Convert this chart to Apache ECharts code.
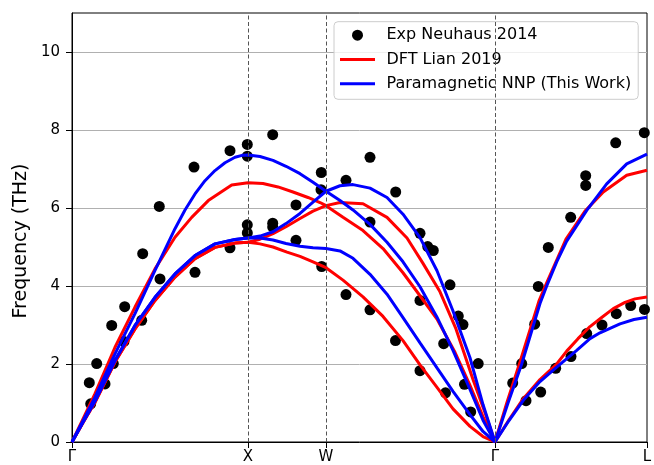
<!DOCTYPE html>
<html>
<head>
<meta charset="utf-8">
<script src="https://cdn.jsdelivr.net/npm/echarts@6/dist/echarts.min.js"></script>
<style>
  html, body { margin: 0; padding: 0; background: #ffffff; }
  #chart { width: 654px; height: 465px; }
</style>
</head>
<body>
<div id="chart"></div>
<script>
// High-symmetry path positions (distance along path) and labels
const kTicks = [0, 176, 254, 423, 575];
const kLabels = ['Γ', 'X', 'W', 'Γ', 'L'];
const yTicks = [0, 2, 4, 6, 8, 10];

// Experimental points (Neuhaus 2014): [k, frequency THz]
const expPoints = [
  [18.7,0.98],[17.3,1.52],[24.7,2.01],[33,1.49],[41.3,2.01],[39.7,2.99],[52,2.58],[52.7,3.47],
  [69.7,3.12],[70.7,4.83],[88,4.18],[87.3,6.04],[122,7.05],[123,4.35],[158,7.47],[158,4.98],
  [175.3,7.63],[175.3,7.33],[175.3,5.57],[175.3,5.36],
  [200.7,7.88],[200.7,5.61],[200.7,5.51],[224,6.08],[224,5.17],[249.3,6.91],[249,6.47],[249.7,4.50],
  [274,6.71],[274,3.78],[298,7.30],[298,5.64],[298,3.39],[323.7,6.41],[323.5,2.60],[348,5.35],
  [348,3.63],[348,1.83],[355.7,5.01],[361.3,4.91],[371.7,2.52],[373.5,1.26],[378,4.03],[386.3,3.23],
  [391,3.01],[392.5,1.48],[398.7,0.77],[406.2,2.01],
  [440.7,1.51],[449.7,2.01],[454,1.06],[462.7,3.02],[466.3,3.99],[468.7,1.28],[476.3,4.99],[483.7,1.89],
  [498.7,5.76],[499,2.19],[513.7,6.83],[513.7,6.58],[514.7,2.78],[530,3.00],[543.7,7.67],[544.3,3.29],
  [558.7,3.50],[572.3,7.93],[572.5,3.40]
];

// DFT (Lian 2019) branches
const dftLA = [
  [0,0],[11.5,0.62],[23,1.24],[43,2.43],[63,3.46],[83,4.44],[103,5.25],[119.7,5.76],[136.3,6.19],[159.7,6.59],[176,6.65],
  [191,6.63],[206,6.54],[221,6.41],[236,6.27],[248,6.14],[254,6.06],
  [271,5.76],[291,5.42],[311,4.96],[331,4.34],[348,3.75],[365,3.15],[383,2.3],[398,1.45],[411,0.65],[423,0]
];
const dftTA1 = [
  [0,0],[11.5,0.52],[23,1.02],[43,2.05],[63,2.90],[83,3.63],[103,4.23],[123,4.70],[143,4.99],[163,5.10],[176,5.12],
  [188,5.2],[201,5.34],[214,5.52],[228,5.73],[241,5.92],[254,6.06],
  [268,6.14],[291,6.11],[315,5.76],[335,5.23],[351,4.58],[368,3.85],[384,2.9],[401,1.6],[414,0.68],[423,0]
];
const dftTA2 = [
  [0,0],[11.5,0.52],[23,1.02],[43,2.05],[63,2.90],[83,3.63],[103,4.23],[123,4.70],[143,4.99],[163,5.10],[176,5.12],
  [188,5.08],[201,5.0],[215,4.87],[228,4.76],[241,4.62],[254,4.47],
  [271,4.15],[291,3.72],[311,3.22],[331,2.6],[348,1.98],[365,1.4],[381,0.85],[398,0.4],[411,0.14],[423,0]
];
const dftGL_LA = [[423,0],[435,1.02],[448,2.05],[467,3.62],[475,4.1],[494,5.2],[513,5.92],[531.3,6.41],[554.7,6.84],[575,6.97]];
const dftGL_TA = [[423,0],[437,0.57],[451.3,1.11],[468,1.6],[484.7,2.0],[494.7,2.33],[506,2.65],[518,2.96],[530,3.2],[541.3,3.42],[553,3.58],[563,3.67],[575,3.72]];

// Paramagnetic NNP (this work) branches
const nnpLA = [
  [0,0],[11.5,0.57],[23,1.15],[43,2.26],[63,3.29],[83,4.40],[103,5.47],[113,5.95],[123,6.36],[133,6.70],[143,6.96],[153,7.16],[163,7.30],[170,7.35],[176,7.36],
  [188,7.32],[201,7.22],[214,7.07],[228,6.88],[241,6.66],[254,6.43],
  [268,6.19],[281,5.95],[298,5.58],[315,5.12],[331,4.62],[348,3.98],[365,3.2],[381,2.35],[398,1.35],[411,0.56],[423,0]
];
const nnpTA1 = [
  [0,0],[11.5,0.53],[23,1.05],[43,2.09],[63,2.99],[83,3.71],[103,4.31],[123,4.78],[143,5.08],[163,5.19],[176,5.23],
  [188,5.28],[201,5.39],[214,5.6],[228,5.86],[241,6.15],[254,6.43],
  [268,6.57],[281,6.60],[298,6.51],[315,6.27],[331,5.84],[348,5.24],[365,4.39],[381,3.36],[398,2.16],[411,0.96],[423,0]
];
const nnpTA2 = [
  [0,0],[11.5,0.53],[23,1.05],[43,2.09],[63,2.99],[83,3.71],[103,4.31],[123,4.78],[143,5.08],[163,5.19],[176,5.23],
  [188,5.23],[201,5.18],[214,5.09],[228,5.02],[241,4.98],[254,4.96],
  [268,4.90],[281,4.71],[298,4.30],[315,3.79],[331,3.19],[348,2.54],[365,1.90],[381,1.30],[398,0.70],[411,0.27],[423,0]
];
const nnpGL_LA = [[423,0],[436,1.0],[449.7,2.0],[468,3.55],[474.7,4.0],[484.7,4.62],[494.7,5.15],[514.7,5.94],[534.7,6.62],[554.7,7.13],[575,7.38]];
const nnpGL_TA = [[423,0],[437,0.55],[451.3,1.07],[468,1.55],[484.7,1.92],[504.7,2.35],[518,2.65],[528,2.8],[548,3.03],[562,3.14],[575,3.2]];

const EXP = 'Exp Neuhaus 2014';
const DFT = 'DFT Lian 2019';
const NNP = 'Paramagnetic NNP (This Work)';
const FONT = 'DejaVu Sans';
const LINE_ICON = 'path://M0,0 L35,0 L35,3 L0,3 Z';

function lineSeries(name, data, color, z) {
  return {
    name: name, type: 'line', data: data, symbol: 'none', showSymbol: false,
    lineStyle: { color: color, width: 3 }, itemStyle: { color: color },
    z: z, silent: true, animation: false, clip: true
  };
}

const chart = echarts.init(document.getElementById('chart'), null, { renderer: 'canvas' });
const option = {
  animation: false,
  grid: {
    left: 72, right: 7, top: 13, bottom: 23,
    show: true, borderColor: '#000', borderWidth: 1, backgroundColor: 'transparent',
    outerBoundsMode: 'none', containLabel: false
  },
  xAxis: {
    type: 'value', min: 0, max: 575,
    axisLine: { show: true, lineStyle: { color: '#000', width: 1 } },
    axisTick: { show: true, customValues: kTicks, length: 6, lineStyle: { color: '#000', width: 1 } },
    axisLabel: {
      show: true, customValues: kTicks, margin: 8, color: '#000', fontSize: 15, fontFamily: FONT,
      formatter: function (v) {
        for (let i = 0; i < kTicks.length; i++) { if (Math.abs(kTicks[i] - v) < 0.5) return kLabels[i]; }
        return '';
      }
    },
    splitLine: { show: false }
  },
  yAxis: {
    type: 'value', min: 0, max: 11, interval: 2,
    axisLine: { show: true, lineStyle: { color: '#000', width: 1 } },
    axisTick: { show: true, customValues: yTicks, length: 6, lineStyle: { color: '#000', width: 1 } },
    axisLabel: {
      show: true, customValues: yTicks, margin: 12, color: '#000', fontSize: 15, fontFamily: FONT,
      formatter: function (v) { return yTicks.indexOf(v) >= 0 ? String(v) : ''; }
    },
    splitLine: { show: true, lineStyle: { color: '#b0b0b0', width: 1 } }
  },
  legend: {
    orient: 'vertical', left: 334, top: 21.7,
    padding: [4.5, 7, 6.5, 6],
    itemWidth: 35, itemHeight: 11, itemGap: 6.3,
    symbolKeepAspect: true,
    backgroundColor: 'rgba(255,255,255,0.8)', borderColor: '#cccccc', borderWidth: 1, borderRadius: 4,
    textStyle: { color: '#000', fontSize: 16, fontFamily: FONT, lineHeight: 18, padding: [0, 0, 0, 6.5] },
    selectedMode: false,
    data: [
      { name: EXP, icon: 'circle', itemStyle: { color: '#000' } },
      { name: DFT, icon: LINE_ICON, itemStyle: { color: '#ff0000' } },
      { name: NNP, icon: LINE_ICON, itemStyle: { color: '#0000ff' } }
    ]
  },
  graphic: [{
    type: 'text', x: 21, y: 241, rotation: Math.PI / 2,
    style: { text: 'Frequency (THz)', font: '19px "DejaVu Sans"', fill: '#000', textAlign: 'center', textVerticalAlign: 'middle' },
    silent: true
  }],
  series: [
    {
      name: EXP, type: 'scatter', data: expPoints, symbol: 'circle', symbolSize: 11,
      itemStyle: { color: '#000', opacity: 1 }, z: 1, clip: true, silent: true, animation: false,
      markLine: {
        silent: true, symbol: 'none', animation: false,
        label: { show: false },
        lineStyle: { type: [4, 2.5], color: '#555', width: 1 },
        data: [{ xAxis: kTicks[1] }, { xAxis: kTicks[2] }, { xAxis: kTicks[3] }]
      }
    },
    lineSeries(DFT, dftLA, '#ff0000', 2),
    lineSeries(DFT, dftTA1, '#ff0000', 2),
    lineSeries(DFT, dftTA2, '#ff0000', 2),
    lineSeries(DFT, dftGL_LA, '#ff0000', 2),
    lineSeries(DFT, dftGL_TA, '#ff0000', 2),
    lineSeries(NNP, nnpLA, '#0000ff', 3),
    lineSeries(NNP, nnpTA1, '#0000ff', 3),
    lineSeries(NNP, nnpTA2, '#0000ff', 3),
    lineSeries(NNP, nnpGL_LA, '#0000ff', 3),
    lineSeries(NNP, nnpGL_TA, '#0000ff', 3)
  ]
};
chart.setOption(option);
</script>
</body>
</html>
